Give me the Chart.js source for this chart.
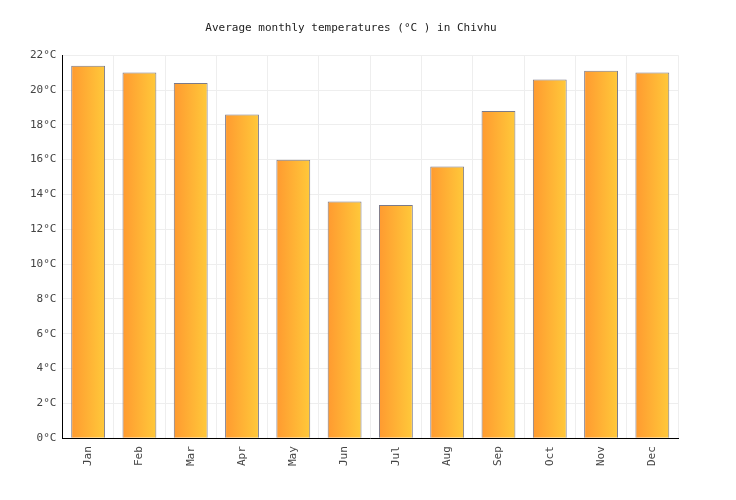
<!DOCTYPE html>
<html><head><meta charset="utf-8">
<script src="https://cdn.jsdelivr.net/npm/chart.js@4"></script>
<style>body{margin:0;background:#fff}#w{width:736px;height:500px}</style>
</head><body><div id="w"><canvas id="c"></canvas></div>
<script>
const months=["Jan","Feb","Mar","Apr","May","Jun","Jul","Aug","Sep","Oct","Nov","Dec"];
const temps=[21.4,21.0,20.4,18.6,16.0,13.6,13.4,15.6,18.8,20.6,21.1,21.0];
const yTicks=[0,2,4,6,8,10,12,14,16,18,20,22];
const FONT="'DejaVu Sans Mono', monospace";
function grad(ctx){
  const ch=ctx.chart, xs=ch.scales&&ch.scales.x;
  if(!xs||ctx.dataIndex===undefined) return '#ffb030';
  const cx=xs.getPixelForValue(ctx.dataIndex), w=xs.width/months.length*0.66;
  if(!isFinite(cx)||!isFinite(w)||w<=0) return '#ffb030';
  const g=ch.ctx.createLinearGradient(cx-w/2,0,cx+w/2,0);
  g.addColorStop(0,'#ff9a30');g.addColorStop(1,'#ffc93a');return g;
}
new Chart(document.getElementById('c'),{
  type:'bar',
  data:{labels:months,datasets:[{data:temps,backgroundColor:grad,borderColor:'#7a7a8a',borderWidth:1,barPercentage:0.66,categoryPercentage:1}]},
  options:{responsive:true,maintainAspectRatio:false,animation:false,devicePixelRatio:1,
    layout:{padding:{left:24,right:58,top:10,bottom:26}},
    plugins:{legend:{display:false},tooltip:{enabled:false},
      title:{display:true,text:'Average monthly temperatures (°C ) in Chivhu',color:'#222',font:{family:FONT,size:11,weight:'normal'},padding:{top:12,bottom:20}}},
    scales:{
      x:{grid:{color:'#eeeeee',drawTicks:false},border:{color:'#000'},
        ticks:{color:'#444',font:{family:FONT,size:11},maxRotation:90,minRotation:90,padding:8}},
      y:{min:0,max:22,afterBuildTicks:a=>{a.ticks=yTicks.map(v=>({value:v}))},
        grid:{color:'#eeeeee',drawTicks:false},border:{color:'#000'},
        ticks:{color:'#444',font:{family:FONT,size:11},padding:6,callback:v=>v+'°C'}}
    }}
});
</script></body></html>
